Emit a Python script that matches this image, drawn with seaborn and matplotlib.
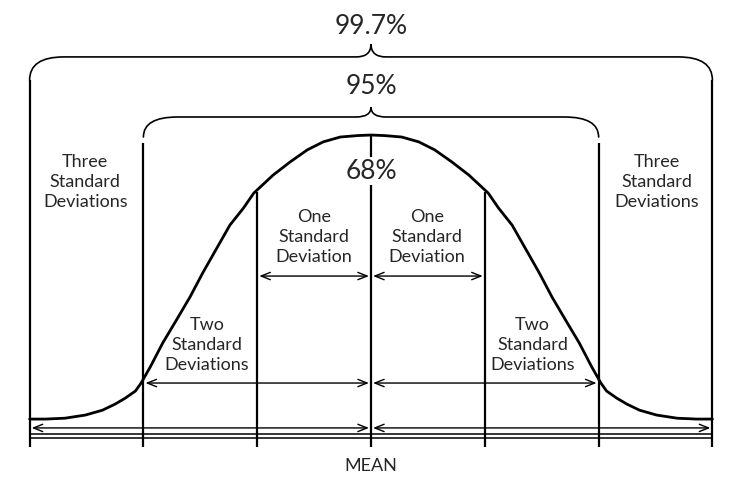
import matplotlib
matplotlib.use("Agg")
import matplotlib.pyplot as plt
import seaborn as sns
from matplotlib.path import Path
from matplotlib.patches import PathPatch

# curve: x in standard deviations, height relative to the peak
sigma_x = [-3.0, -2.86, -2.69, -2.51, -2.36, -2.25, -2.16, -2.07, -2.02, -1.94,
           -1.83, -1.71, -1.59, -1.48, -1.35, -1.24, -1.12, -1.03, -0.86, -0.71,
           -0.56, -0.42, -0.27, -0.12, 0.0,
           0.12, 0.27, 0.42, 0.56, 0.71, 0.86, 1.03, 1.12, 1.24, 1.35,
           1.48, 1.59, 1.71, 1.83, 1.94, 2.02, 2.07, 2.16, 2.25, 2.36,
           2.51, 2.69, 2.86, 3.0]
curve_h = [0.007, 0.007, 0.010, 0.021, 0.038, 0.059, 0.080, 0.105, 0.133, 0.189,
           0.273, 0.353, 0.434, 0.517, 0.608, 0.685, 0.745, 0.797, 0.860, 0.906,
           0.948, 0.976, 0.993, 0.998, 1.0,
           0.998, 0.993, 0.976, 0.948, 0.906, 0.860, 0.797, 0.745, 0.685, 0.608,
           0.517, 0.434, 0.353, 0.273, 0.189, 0.133, 0.105, 0.080, 0.059, 0.038,
           0.021, 0.010, 0.007, 0.007]

# vertical guide lines at each standard deviation
sd_lines = [-3, -2, -1, 0, 1, 2, 3]
sd_line_top = [1.192, 0.972, 0.80, 1.0, 0.80, 0.972, 1.192]

# percentage brackets
pct_labels = ["99.7%", "95%", "68%"]
pct_span = [3, 2, 1]

arrow_rows = [0.507, 0.133, -0.024]   # one, two, three SD arrows

sns.set_style("white")
plt.rcParams["font.family"] = ["Lato", "DejaVu Sans"]

fig = plt.figure(figsize=(7.37, 4.8), dpi=100)
ax = fig.add_axes([0, 0, 1, 1])
ax.set_xlim(-3.26, 3.216)
ax.set_ylim(-0.206, 1.472)
ax.axis("off")

sns.lineplot(x=sigma_x, y=curve_h, sort=False, color="black", lw=2.0, ax=ax,
             solid_joinstyle="round")

BOTTOM = -0.091
ax.vlines(sd_lines, BOTTOM, sd_line_top, color="black", lw=1.6)

# double baseline
ax.hlines([-0.045, -0.058], -3, 3, color="black", lw=1.1)

# arrows
for row, n in zip(arrow_rows, [1, 2, 3]):
    for a, b in [(-n, 0), (0, n)]:
        ax.annotate("", xy=(b, row), xytext=(a, row),
                    arrowprops=dict(arrowstyle="<->,head_length=0.55,head_width=0.22",
                                    lw=1.0, color="black", shrinkA=1.5, shrinkB=1.5,
                                    mutation_scale=12))


def brace(x0, x1, y_end, y_line, y_tip, r=0.3, t=0.13):
    xm = (x0 + x1) / 2
    verts = [(x0, y_end), (x0, y_line), (x0 + r, y_line),
             (xm - t, y_line), (xm, y_line), (xm, y_tip),
             (xm, y_line), (xm + t, y_line),
             (x1 - r, y_line), (x1, y_line), (x1, y_end)]
    codes = [Path.MOVETO, Path.CURVE3, Path.CURVE3,
             Path.LINETO, Path.CURVE3, Path.CURVE3,
             Path.CURVE3, Path.CURVE3,
             Path.LINETO, Path.CURVE3, Path.CURVE3]
    ax.add_patch(PathPatch(Path(verts, codes), fill=False, lw=1.2,
                           edgecolor="black", capstyle="round"))


brace(-pct_span[0], pct_span[0], 1.192, 1.273, 1.318)
brace(-pct_span[1], pct_span[1], 0.993, 1.063, 1.098)

ax.text(0, 1.378, pct_labels[0], ha="center", va="center", fontsize=19)
ax.text(0, 1.168, pct_labels[1], ha="center", va="center", fontsize=19)
ax.text(0, 0.874, pct_labels[2], ha="center", va="center", fontsize=19,
        bbox=dict(facecolor="white", edgecolor="none", pad=1))

lab_kw = dict(ha="center", va="center", fontsize=13, linespacing=1.3)
ax.text(-2.51, 0.836, "Three\nStandard\nDeviations", **lab_kw)
ax.text(2.51, 0.836, "Three\nStandard\nDeviations", **lab_kw)
ax.text(-0.50, 0.643, "One\nStandard\nDeviation", **lab_kw)
ax.text(0.49, 0.643, "One\nStandard\nDeviation", **lab_kw)
ax.text(-1.44, 0.266, "Two\nStandard\nDeviations", **lab_kw)
ax.text(1.42, 0.266, "Two\nStandard\nDeviations", **lab_kw)
ax.text(0, -0.157, "MEAN", ha="center", va="center", fontsize=13)

fig.savefig("out.png", dpi=100, facecolor="white")
